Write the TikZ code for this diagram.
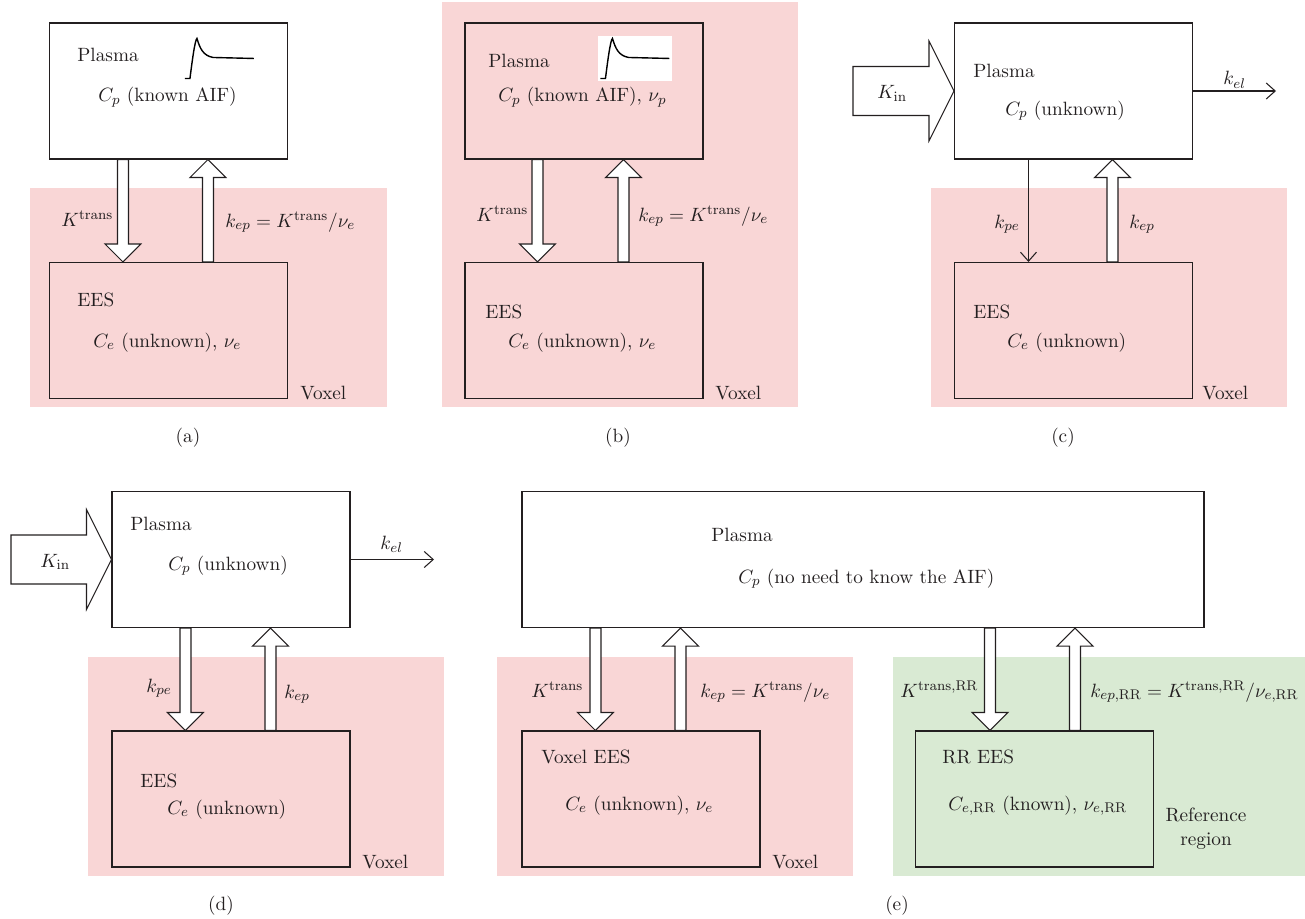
\documentclass[tikz,border=0pt,11pt]{standalone}
\usepackage{amsmath}
\usepackage{xcolor}
\usetikzlibrary{arrows.meta}
\usetikzlibrary{calc}
\usetikzlibrary{positioning}

\newlength{\px}
\setlength{\px}{0.02cm}
\definecolor{voxel}{RGB}{249,214,214}
\definecolor{refregion}{RGB}{217,234,211}
\definecolor{ink}{RGB}{35,31,32}

\tikzset{
	fatarrow/.style n args={3}{draw=ink, fill=white, line width=0.6pt, to path={
			let \p1=(\tikztostart), \p2=(\tikztotarget), \p3=($(\p2)!#3!(\p1)$) in
			($(\p1)!#1!90:(\p2)$) -- ($(\p3)!#1!90:(\p2)$) -- ($(\p3)!#2!90:(\p2)$) -- (\p2)
			-- ($(\p3)!#2!-90:(\p2)$) -- ($(\p3)!#1!-90:(\p2)$) -- ($(\p1)!#1!-90:(\p2)$) -- cycle}},
	aif/.pic={
			\fill[white] (134,14) rectangle (208,59);
			\draw[black, line width=0.8pt] (136,56) -- (141,56) .. controls (143,40) and (146,17) .. (148,16)
			.. controls (151,26) and (154,33) .. (164,35) -- (205,36);
		},
}

\begin{document}
\begin{tikzpicture}[
		x=0.02cm, y=-0.02cm,
		every node/.style={text=ink},
		lbl/.style={anchor=base west, inner sep=0pt},
		caption/.style={anchor=base, inner sep=0pt},
		box/.style={draw=ink, line width=0.6pt, inner sep=0pt, minimum width=238*\px, minimum height=136*\px},
		flux/.style={fatarrow={0.11cm}{0.36cm}{0.36cm}},
		inflow/.style={fatarrow={0.49cm}{1cm}{0.5cm}},
		rate/.style={draw=ink, line width=0.6pt, -{Straight Barb[length=0.18cm, width=0.32cm]}},
	]
	\useasboundingbox (0,0) rectangle (1305,919);

	% (a) Tofts model
	\fill[voxel] (30,188) rectangle (387,407);
	\node[box] (plasma a) at (168.5,91) {};
	\node[box] (ees a) at (168.5,330.5) {};
	\pic at (plasma a.north west) {aif};
	\draw[flux] ([xshift=74*\px]plasma a.south west) to ([xshift=74*\px]ees a.north west);
	\draw[flux] ([xshift=159*\px]ees a.north west) to ([xshift=159*\px]plasma a.south west);
	\node[lbl] (plasma a txt) at (77,62) {Plasma};
	\node[lbl] (cp a) at (98,102) {$C_p$ (known AIF)};
	\node[lbl] (ktrans a) at (61,226) {$K^{\mathrm{trans}}$};
	\node[lbl] (kep a) at (225,227) {$k_{ep} = K^{\mathrm{trans}}/\nu_e$};
	\node[lbl] (ees a txt) at (77,306) {EES};
	\node[lbl] (ce a) at (93,347) {$C_e$ (unknown), $\nu_e$};
	\node[lbl] (voxel a) at (300,399) {Voxel};
	\node[caption] (cap a) at (188,442) {(a)};

	% (b) extended Tofts
	\fill[voxel] (442,2) rectangle (798,407);
	\node[box, fill=voxel] (plasma b) at (584,91) {};
	\node[box] (ees b) at (584,330.5) {};
	\pic at (plasma b.north west) {aif};
	\draw[flux] ([xshift=73*\px]plasma b.south west) to ([xshift=73*\px]ees b.north west);
	\draw[flux] ([xshift=159*\px]ees b.north west) to ([xshift=159*\px]plasma b.south west);
	\node[lbl] (plasma b txt) at (488,68) {Plasma};
	\node[lbl] (cp b) at (498,102) {$C_p$ (known AIF), $\nu_p$};
	\node[lbl] (ktrans b) at (476,221) {$K^{\mathrm{trans}}$};
	\node[lbl] (kep b) at (638,221) {$k_{ep} = K^{\mathrm{trans}}/\nu_e$};
	\node[lbl] (ees b txt) at (485,318) {EES};
	\node[lbl] (ce b) at (508,347) {$C_e$ (unknown), $\nu_e$};
	\node[lbl] (voxel b) at (715,399) {Voxel};
	\node[caption] (cap b) at (618,442) {(b)};

	% (c) input and elimination, thin k_pe
	\fill[voxel] (931,188) rectangle (1287,407);
	\node[box] (plasma c) at (1073.5,91) {};
	\node[box] (ees c) at (1073.5,330.5) {};
	\coordinate (kin c) at (853,91);
	\coordinate (kel c) at (1276,91);
	\draw[inflow] (kin c) to (plasma c.west);
	\draw[rate] (plasma c.east) -- (kel c);
	\draw[rate] ([xshift=74.5*\px]plasma c.south west) -- ([xshift=74.5*\px]ees c.north west);
	\draw[flux] ([xshift=158.5*\px]ees c.north west) to ([xshift=158.5*\px]plasma c.south west);
	\node[lbl] (kin c txt) at (877,99) {$K_{\mathrm{in}}$};
	\node[lbl] (kel c txt) at (1223,85) {$k_{el}$};
	\node[lbl] (plasma c txt) at (973,78) {Plasma};
	\node[lbl] (cp c) at (1005,115) {$C_p$ (unknown)};
	\node[lbl] (kpe c) at (994,228) {$k_{pe}$};
	\node[lbl] (kep c) at (1129,228) {$k_{ep}$};
	\node[lbl] (ees c txt) at (973,318) {EES};
	\node[lbl] (ce c) at (1007,347) {$C_e$ (unknown)};
	\node[lbl] (voxel c) at (1202,399) {Voxel};
	\node[caption] (cap c) at (1063,442) {(c)};

	% (d) input and elimination
	\fill[voxel] (88,657) rectangle (444,876);
	\node[box] (plasma d) at (231,559.5) {};
	\node[box] (ees d) at (231,799) {};
	\coordinate (kin d) at (11,559.5);
	\coordinate (kel d) at (434,559.5);
	\draw[inflow] (kin d) to (plasma d.west);
	\draw[rate] (plasma d.east) -- (kel d);
	\draw[flux] ([xshift=74*\px]plasma d.south west) to ([xshift=74*\px]ees d.north west);
	\draw[flux] ([xshift=159*\px]ees d.north west) to ([xshift=159*\px]plasma d.south west);
	\node[lbl] (kin d txt) at (40,567) {$K_{\mathrm{in}}$};
	\node[lbl] (kel d txt) at (380,549) {$k_{el}$};
	\node[lbl] (plasma d txt) at (130,530) {Plasma};
	\node[lbl] (cp d) at (168,570) {$C_p$ (unknown)};
	\node[lbl] (kpe d) at (146,692) {$k_{pe}$};
	\node[lbl] (kep d) at (284,698) {$k_{ep}$};
	\node[lbl] (ees d txt) at (140,787) {EES};
	\node[lbl] (ce d) at (167,814) {$C_e$ (unknown)};
	\node[lbl] (voxel d) at (362,868) {Voxel};
	\node[caption] (cap d) at (221,910) {(d)};

	% (e) reference region
	\fill[voxel] (497,657) rectangle (853,876);
	\fill[refregion] (893,657) rectangle (1305,876);
	\node[box, minimum width=682*\px] (plasma e) at (863,559.5) {};
	\node[box] (ees e) at (641,799) {};
	\node[box] (ees rr) at (1034.5,799) {};
	\draw[flux] ([xshift=74*\px]plasma e.south west) to ([xshift=74*\px]ees e.north west);
	\draw[flux] ([xshift=159*\px]ees e.north west) to ([xshift=159*\px]plasma e.south west);
	\draw[flux] ([xshift=468.5*\px]plasma e.south west) to ([xshift=75*\px]ees rr.north west);
	\draw[flux] ([xshift=160*\px]ees rr.north west) to ([xshift=553.5*\px]plasma e.south west);
	\node[lbl] (plasma e txt) at (711,541) {Plasma};
	\node[lbl] (cp e) at (738,583) {$C_p$ (no need to know the AIF)};
	\node[lbl] (ktrans e) at (531,697) {$K^{\mathrm{trans}}$};
	\node[lbl] (kep e) at (700,697) {$k_{ep} = K^{\mathrm{trans}}/\nu_e$};
	\node[lbl] (ees e txt) at (541,763) {Voxel EES};
	\node[lbl] (ce e) at (565,810) {$C_e$ (unknown), $\nu_e$};
	\node[lbl] (voxel e) at (772,868) {Voxel};
	\node[lbl] (ktrans rr) at (900,697) {$K^{\mathrm{trans,RR}}$};
	\node[lbl] (kep rr) at (1090,697) {$k_{ep,\mathrm{RR}} = K^{\mathrm{trans,RR}}/\nu_{e,\mathrm{RR}}$};
	\node[lbl] (ees rr txt) at (942,763) {RR EES};
	\node[lbl] (ce rr) at (948,810) {$C_{e,\mathrm{RR}}$ (known), $\nu_{e,\mathrm{RR}}$};
	\node[anchor=base, inner sep=0pt, align=center] (rr region) at (1206,845) {Reference\\region};
	\node[caption] (cap e) at (897,910) {(e)};
\end{tikzpicture}
\end{document}
